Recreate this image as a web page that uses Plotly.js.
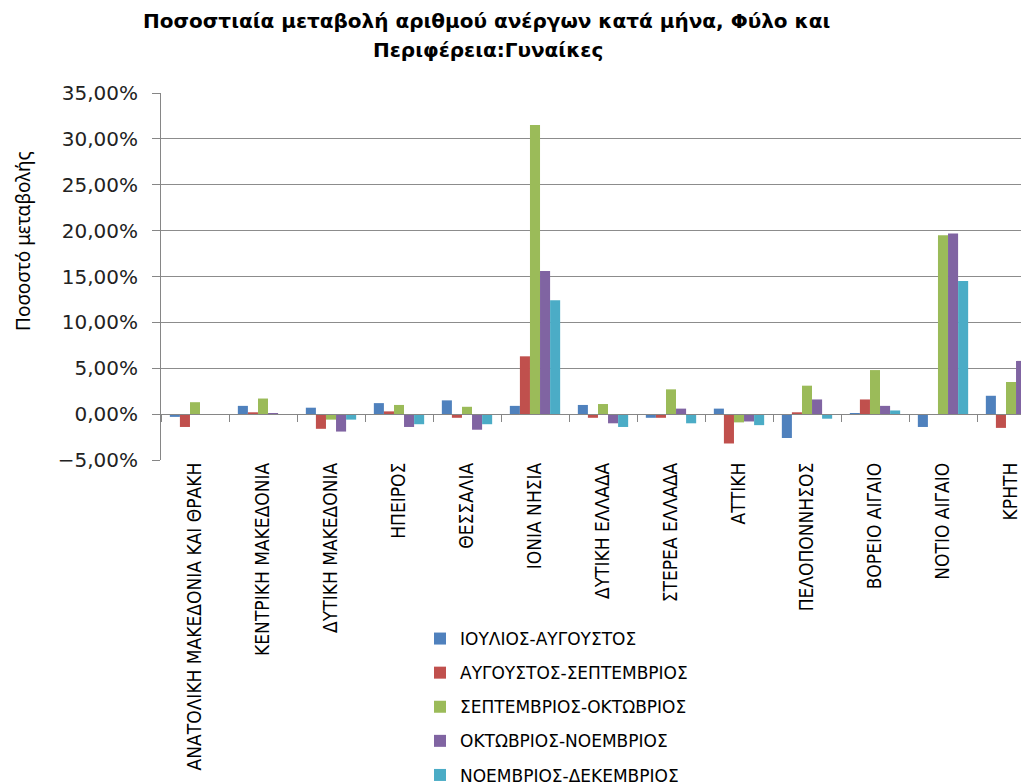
<!DOCTYPE html>
<html>
<head>
<meta charset="utf-8">
<script src="https://cdn.plot.ly/plotly-3.0.1.min.js"></script>
<style>
html,body{margin:0;padding:0;overflow:hidden;background:#fff;width:1021px;height:783px;}
#chart{width:1100px;height:800px;}
</style>
</head>
<body>
<div id="chart"></div>
<script>
const categories = ['ΑΝΑΤΟΛΙΚΗ ΜΑΚΕΔΟΝΙΑ ΚΑΙ ΘΡΑΚΗ','ΚΕΝΤΡΙΚΗ ΜΑΚΕΔΟΝΙΑ','ΔΥΤΙΚΗ ΜΑΚΕΔΟΝΙΑ','ΗΠΕΙΡΟΣ','ΘΕΣΣΑΛΙΑ','ΙΟΝΙΑ ΝΗΣΙΑ','ΔΥΤΙΚΗ ΕΛΛΑΔΑ','ΣΤΕΡΕΑ ΕΛΛΑΔΑ','ΑΤΤΙΚΗ','ΠΕΛΟΠΟΝΝΗΣΟΣ','ΒΟΡΕΙΟ ΑΙΓΑΙΟ','ΝΟΤΙΟ ΑΙΓΑΙΟ','ΚΡΗΤΗ'];
const seriesNames = ['ΙΟΥΛΙΟΣ-ΑΥΓΟΥΣΤΟΣ','ΑΥΓΟΥΣΤΟΣ-ΣΕΠΤΕΜΒΡΙΟΣ','ΣΕΠΤΕΜΒΡΙΟΣ-ΟΚΤΩΒΡΙΟΣ','ΟΚΤΩΒΡΙΟΣ-ΝΟΕΜΒΡΙΟΣ','ΝΟΕΜΒΡΙΟΣ-ΔΕΚΕΜΒΡΙΟΣ'];
const julAug = [-0.3, 0.9, 0.7, 1.2, 1.5, 0.9, 1.0, -0.4, 0.6, -2.6, 0.1, -1.4, 2.0];
const augSep = [-1.4, 0.2, -1.6, 0.3, -0.4, 6.3, -0.4, -0.4, -3.2, 0.2, 1.6, 0.0, -1.5];
const sepOct = [1.3, 1.7, -0.6, 1.0, 0.8, 31.5, 1.1, 2.7, -0.9, 3.1, 4.8, 19.5, 3.5];
const octNov = [0.0, 0.1, -1.9, -1.4, -1.7, 15.6, -1.0, 0.6, -0.8, 1.6, 0.9, 19.7, 5.8];
const novDec = [0.0, 0.0, -0.6, -1.1, -1.1, 12.4, -1.4, -1.0, -1.2, -0.5, 0.4, 14.5, 2.9];
const titleLines = ['Ποσοστιαία μεταβολή αριθμού ανέργων κατά μήνα, Φύλο και', 'Περιφέρεια:Γυναίκες'];
const yTitle = 'Ποσοστό μεταβολής';
const colors = ['#4F81BD','#C0504D','#9BBB59','#8064A2','#4BACC6'];
const allSeries = [julAug, augSep, sepOct, octNov, novDec];

const traces = allSeries.map((vals, i) => ({
  type: 'bar',
  x: categories,
  y: vals,
  name: seriesNames[i],
  legendgroup: 'g' + i,
  marker: {color: colors[i]},
  hoverinfo: 'x+y+name'
}));

const W = 1100, H = 800;
const mL = 161, mR = W - 1045, mT = 93, mB = H - 460;
const pw = W - mL - mR, ph = H - mT - mB;

const titleFont = {family: 'DejaVu Sans, Verdana, sans-serif', size: 20, color: '#000'};

const layout = {
  width: W, height: H,
  margin: {l: mL, r: mR, t: mT, b: mB, autoexpand: false},
  paper_bgcolor: '#ffffff',
  plot_bgcolor: '#ffffff',
  separators: ',.',
  barmode: 'group',
  bargap: 0.26,
  bargroupgap: 0,
  showlegend: true,
  xaxis: {
    type: 'category',
    anchor: 'free',
    position: 5 / 40,
    showline: true, linecolor: '#868686', linewidth: 1,
    ticks: 'outside', tickson: 'boundaries', ticklen: 7, tickcolor: '#868686',
    tickangle: -90,
    ticklabelstandoff: 40,
    tickfont: {family: 'Liberation Sans Narrow, Arial Narrow, DejaVu Sans Condensed, sans-serif', size: 19, color: '#000'},
    showgrid: false, zeroline: false,
    automargin: false,
    fixedrange: true
  },
  yaxis: {
    range: [-5, 35],
    dtick: 5, tick0: 0,
    tickformat: '.2f', ticksuffix: '%',
    showline: true, linecolor: '#868686', linewidth: 1,
    ticks: 'outside', ticklen: 8, tickcolor: '#868686',
    ticklabelstandoff: 10,
    showgrid: true, gridcolor: '#8c8c8c', gridwidth: 1,
    zeroline: false,
    tickfont: {family: 'DejaVu Sans, Verdana, sans-serif', size: 20, color: '#222'},
    automargin: false,
    fixedrange: true
  },
  legend: {
    x: (420 - mL) / pw, xanchor: 'left',
    y: (460 - 621) / ph, yanchor: 'top',
    traceorder: 'grouped',
    tracegroupgap: 9,
    font: {family: 'DejaVu Sans, Verdana, sans-serif', size: 17, color: '#000'},
    bgcolor: 'rgba(0,0,0,0)'
  },
  annotations: [
    {
      text: '<b>' + titleLines[0] + '</b>',
      xref: 'paper', yref: 'paper',
      x: (486 - mL) / pw, y: (460 - 21) / ph,
      xanchor: 'center', yanchor: 'middle', showarrow: false,
      font: titleFont
    },
    {
      text: '<b>' + titleLines[1] + '</b>',
      xref: 'paper', yref: 'paper',
      x: (488 - mL) / pw, y: (460 - 50) / ph,
      xanchor: 'center', yanchor: 'middle', showarrow: false,
      font: titleFont
    },
    {
      text: yTitle,
      textangle: -90,
      xref: 'paper', yref: 'paper',
      x: (23 - mL) / pw, y: (460 - 241) / ph,
      xanchor: 'center', yanchor: 'middle',
      showarrow: false,
      font: {family: 'Noto Sans, Open Sans, sans-serif', size: 19, color: '#000'}
    }
  ]
};

Plotly.newPlot('chart', traces, layout, {displayModeBar: false, responsive: false});
</script>
</body>
</html>
